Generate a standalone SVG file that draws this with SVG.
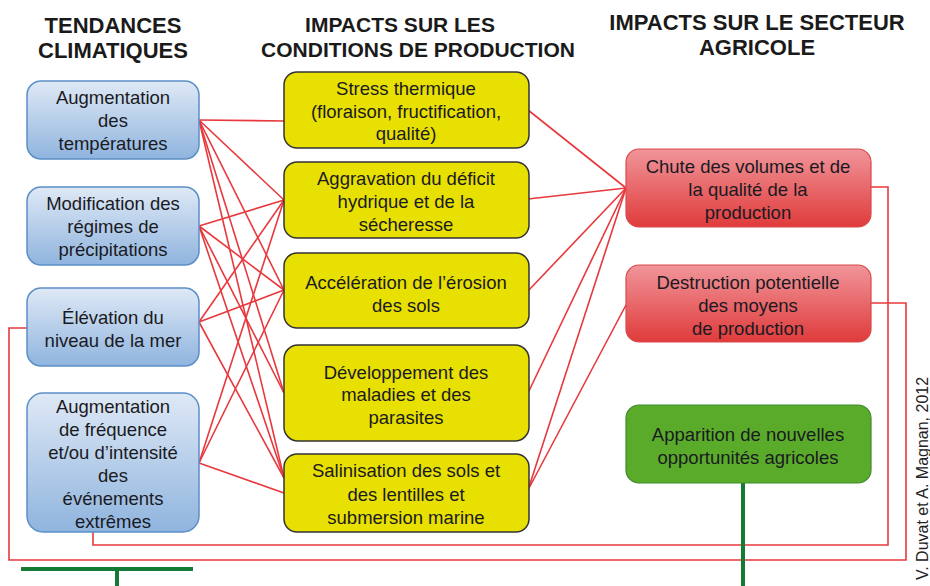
<svg xmlns="http://www.w3.org/2000/svg" width="930" height="586" viewBox="0 0 930 586">
  <defs>
    <linearGradient id="gBlue" x1="0" y1="0" x2="0" y2="1">
      <stop offset="0" stop-color="#dfe9f6"/>
      <stop offset="1" stop-color="#8fb4de"/>
    </linearGradient>
    <linearGradient id="gRed" x1="0" y1="0" x2="0" y2="1">
      <stop offset="0" stop-color="#f0959a"/>
      <stop offset="1" stop-color="#e03b3b"/>
    </linearGradient>
    <style>
      .title { font-family: "Liberation Sans", Arial, sans-serif; font-weight: bold; font-size: 22px; fill: #1a1a1a; text-anchor: middle; }
      .mid { font-size: 21px; }
      .lbl { font-family: "Liberation Sans", Arial, sans-serif; font-size: 18.5px; fill: #1a1a22; text-anchor: middle; dominant-baseline: central; }
      .blue { fill: url(#gBlue); stroke: #5b8fc6; stroke-width: 1.5; }
      .yellow { fill: #e8e000; stroke: #333; stroke-width: 1.5; }
      .red { fill: url(#gRed); stroke: #d9484c; stroke-width: 1.2; }
      .green { fill: #5aab29; stroke: #3d8b2b; stroke-width: 1.2; }
      .link { stroke: #e8383d; stroke-width: 1.6; fill: none; }
      .trunk { stroke: #147a35; stroke-width: 4; fill: none; }
      .credit { font-family: "Liberation Sans", Arial, sans-serif; font-size: 16px; fill: #222; }
    </style>
  </defs>

  <rect width="930" height="586" fill="#ffffff"/>

  <!-- column headings -->
  <g id="headings">
    <text class="title" x="113" y="33">TENDANCES</text>
    <text class="title" x="113" y="58">CLIMATIQUES</text>
    <text class="title mid" x="400" y="32">IMPACTS SUR LES</text>
    <text class="title mid" x="418" y="57">CONDITIONS DE PRODUCTION</text>
    <text class="title" x="757" y="30">IMPACTS SUR LE SECTEUR</text>
    <text class="title" x="757" y="55">AGRICOLE</text>
  </g>

  <!-- connectors -->
  <g id="connectors">
    <!-- climate trends to production conditions -->
    <line class="link" x1="199" y1="120" x2="284" y2="121"/>
    <line class="link" x1="199" y1="120" x2="284" y2="200"/>
    <line class="link" x1="199" y1="120" x2="284" y2="290"/>
    <line class="link" x1="199" y1="120" x2="284" y2="393"/>
    <line class="link" x1="199" y1="120" x2="284" y2="478"/>
    <line class="link" x1="199" y1="226" x2="284" y2="200"/>
    <line class="link" x1="199" y1="226" x2="284" y2="290"/>
    <line class="link" x1="199" y1="226" x2="284" y2="393"/>
    <line class="link" x1="199" y1="226" x2="284" y2="478"/>
    <line class="link" x1="199" y1="322" x2="284" y2="200"/>
    <line class="link" x1="199" y1="322" x2="284" y2="290"/>
    <line class="link" x1="199" y1="322" x2="284" y2="478"/>
    <line class="link" x1="199" y1="463" x2="284" y2="200"/>
    <line class="link" x1="199" y1="463" x2="284" y2="290"/>
    <line class="link" x1="199" y1="463" x2="284" y2="493"/>
    <!-- production conditions to agricultural sector -->
    <line class="link" x1="528" y1="110" x2="626" y2="188"/>
    <line class="link" x1="528" y1="199" x2="626" y2="188"/>
    <line class="link" x1="528" y1="291" x2="626" y2="188"/>
    <line class="link" x1="528" y1="393" x2="626" y2="188"/>
    <line class="link" x1="528" y1="490" x2="626" y2="188"/>
    <line class="link" x1="528" y1="490" x2="626" y2="305"/>
    <!-- feedback loops -->
    <path class="link" d="M871,187 H888 V545 H93 V532"/>
    <path class="link" d="M27,328 H9 V560 H906 V303 H871"/>
    <!-- green stems -->
    <line class="trunk" x1="743" y1="483" x2="743" y2="586"/>
    <line class="trunk" x1="21" y1="569" x2="193" y2="569"/>
    <line class="trunk" x1="117" y1="569" x2="117" y2="586"/>
  </g>

  <!-- climate trends -->
  <g id="t-temperatures">
    <rect class="blue" x="27" y="81" width="172" height="78" rx="14"/>
    <text class="lbl" x="113" y="97">Augmentation</text>
    <text class="lbl" x="113" y="120">des</text>
    <text class="lbl" x="113" y="143">températures</text>
  </g>
  <g id="t-precipitations">
    <rect class="blue" x="27" y="187" width="172" height="78" rx="14"/>
    <text class="lbl" x="113" y="203">Modification des</text>
    <text class="lbl" x="113" y="226">régimes de</text>
    <text class="lbl" x="113" y="249">précipitations</text>
  </g>
  <g id="t-mer">
    <rect class="blue" x="27" y="288" width="172" height="78" rx="14"/>
    <text class="lbl" x="113" y="317">Élévation du</text>
    <text class="lbl" x="113" y="340">niveau de la mer</text>
  </g>
  <g id="t-extremes">
    <rect class="blue" x="27" y="393" width="172" height="139" rx="16"/>
    <text class="lbl" x="113" y="406">Augmentation</text>
    <text class="lbl" x="113" y="429">de fréquence</text>
    <text class="lbl" x="113" y="452">et/ou d’intensité</text>
    <text class="lbl" x="113" y="475">des</text>
    <text class="lbl" x="113" y="498">événements</text>
    <text class="lbl" x="113" y="521">extrêmes</text>
  </g>

  <!-- production conditions -->
  <g id="c-stress">
    <rect class="yellow" x="284" y="72" width="245" height="76" rx="13"/>
    <text class="lbl" x="406" y="88">Stress thermique</text>
    <text class="lbl" x="406" y="111">(floraison, fructification,</text>
    <text class="lbl" x="406" y="133">qualité)</text>
  </g>
  <g id="c-deficit">
    <rect class="yellow" x="284" y="162" width="245" height="76" rx="13"/>
    <text class="lbl" x="406" y="178">Aggravation du déficit</text>
    <text class="lbl" x="406" y="201">hydrique et de la</text>
    <text class="lbl" x="406" y="224">sécheresse</text>
  </g>
  <g id="c-erosion">
    <rect class="yellow" x="284" y="253" width="245" height="75" rx="13"/>
    <text class="lbl" x="406" y="282">Accélération de l’érosion</text>
    <text class="lbl" x="406" y="305">des sols</text>
  </g>
  <g id="c-maladies">
    <rect class="yellow" x="284" y="345" width="245" height="96" rx="14"/>
    <text class="lbl" x="406" y="372">Développement des</text>
    <text class="lbl" x="406" y="394">maladies et des</text>
    <text class="lbl" x="406" y="417">parasites</text>
  </g>
  <g id="c-salinisation">
    <rect class="yellow" x="284" y="454" width="245" height="78" rx="13"/>
    <text class="lbl" x="406" y="470">Salinisation des sols et</text>
    <text class="lbl" x="406" y="494">des lentilles et</text>
    <text class="lbl" x="406" y="517">submersion marine</text>
  </g>

  <!-- agricultural sector -->
  <g id="s-chute">
    <rect class="red" x="626" y="149" width="245" height="78" rx="13"/>
    <text class="lbl" x="748" y="166">Chute des volumes et de</text>
    <text class="lbl" x="748" y="189">la qualité de la</text>
    <text class="lbl" x="748" y="212">production</text>
  </g>
  <g id="s-destruction">
    <rect class="red" x="626" y="265" width="245" height="77" rx="13"/>
    <text class="lbl" x="748" y="282">Destruction potentielle</text>
    <text class="lbl" x="748" y="305">des moyens</text>
    <text class="lbl" x="748" y="328">de production</text>
  </g>
  <g id="s-opportunites">
    <rect class="green" x="626" y="405" width="245" height="78" rx="13"/>
    <text class="lbl" x="748" y="434">Apparition de nouvelles</text>
    <text class="lbl" x="748" y="457">opportunités agricoles</text>
  </g>

  <text class="credit" transform="translate(928,580) rotate(-90)">V. Duvat et A. Magnan, 2012</text>
</svg>
